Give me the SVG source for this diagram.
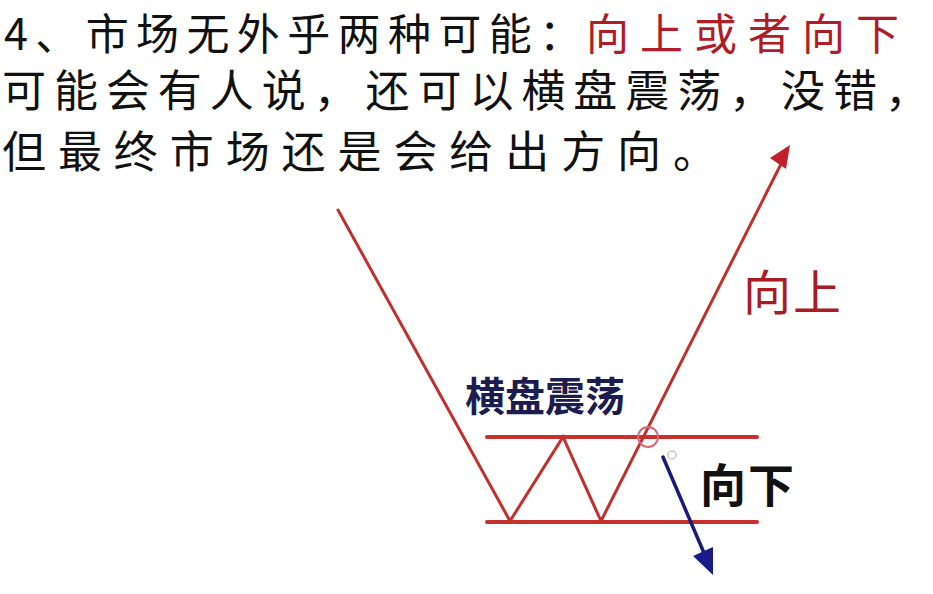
<svg xmlns="http://www.w3.org/2000/svg" width="933" height="594" viewBox="0 0 933 594">
<style>
.t{font-family:"Noto Sans CJK SC","Noto Sans",sans-serif;font-size:44px;fill:#111}
.t1{font-size:43px}
.red{fill:#b01c28}
.lbl{font-family:"Noto Sans CJK SC","Noto Sans",sans-serif}
.rl{stroke:#c0302c;stroke-width:3;fill:none;stroke-linecap:round}
.hl{stroke:#c8302c;stroke-width:4;fill:none;stroke-linecap:round}
</style>
<rect width="933" height="594" fill="#ffffff"/>
<g id="heading">
<text class="t t1" x="4" y="50" textLength="578" lengthAdjust="spacing">4、市场无外乎两种可能：</text>
<text class="t t1 red" x="586" y="50" textLength="313" lengthAdjust="spacing">向上或者向下</text>
<text class="t" x="2" y="107" textLength="927" lengthAdjust="spacing">可能会有人说，还可以横盘震荡，没错，</text>
<text class="t" x="2" y="168" textLength="715" lengthAdjust="spacing">但最终市场还是会给出方向。</text>
</g>
<g id="connectors">
<line class="rl" x1="338" y1="210" x2="510" y2="521"/>
<line class="hl" x1="487" y1="437" x2="757" y2="437"/>
<line class="hl" x1="487" y1="522" x2="757" y2="522"/>
<polyline class="rl" points="510,521 563,437 601,521 781,164"/>
<polygon points="790,145 770,158 786,169" fill="#c0202a"/>
<circle cx="648" cy="437" r="10" fill="none" stroke="#d46a80" stroke-width="2"/>
<circle cx="672" cy="455" r="4" fill="none" stroke="#c8c8c8" stroke-width="1.5"/>
<line x1="663" y1="457" x2="704" y2="553" stroke="#1a1a78" stroke-width="3.5" stroke-linecap="round"/>
<polygon points="713,575 693,556 713,547" fill="#1a1a88"/>
</g>
<g id="node-sideways">
<text class="lbl" x="465" y="411" font-size="40" font-weight="bold" fill="#1c1c4e" textLength="160" lengthAdjust="spacing">横盘震荡</text>
</g>
<g id="node-up">
<text class="lbl" x="743" y="310" font-size="48" fill="#a81c26" textLength="98" lengthAdjust="spacing">向上</text>
</g>
<g id="node-down">
<text class="lbl" x="700" y="502" font-size="46" font-weight="bold" fill="#111" textLength="94" lengthAdjust="spacing">向下</text>
</g>
</svg>
